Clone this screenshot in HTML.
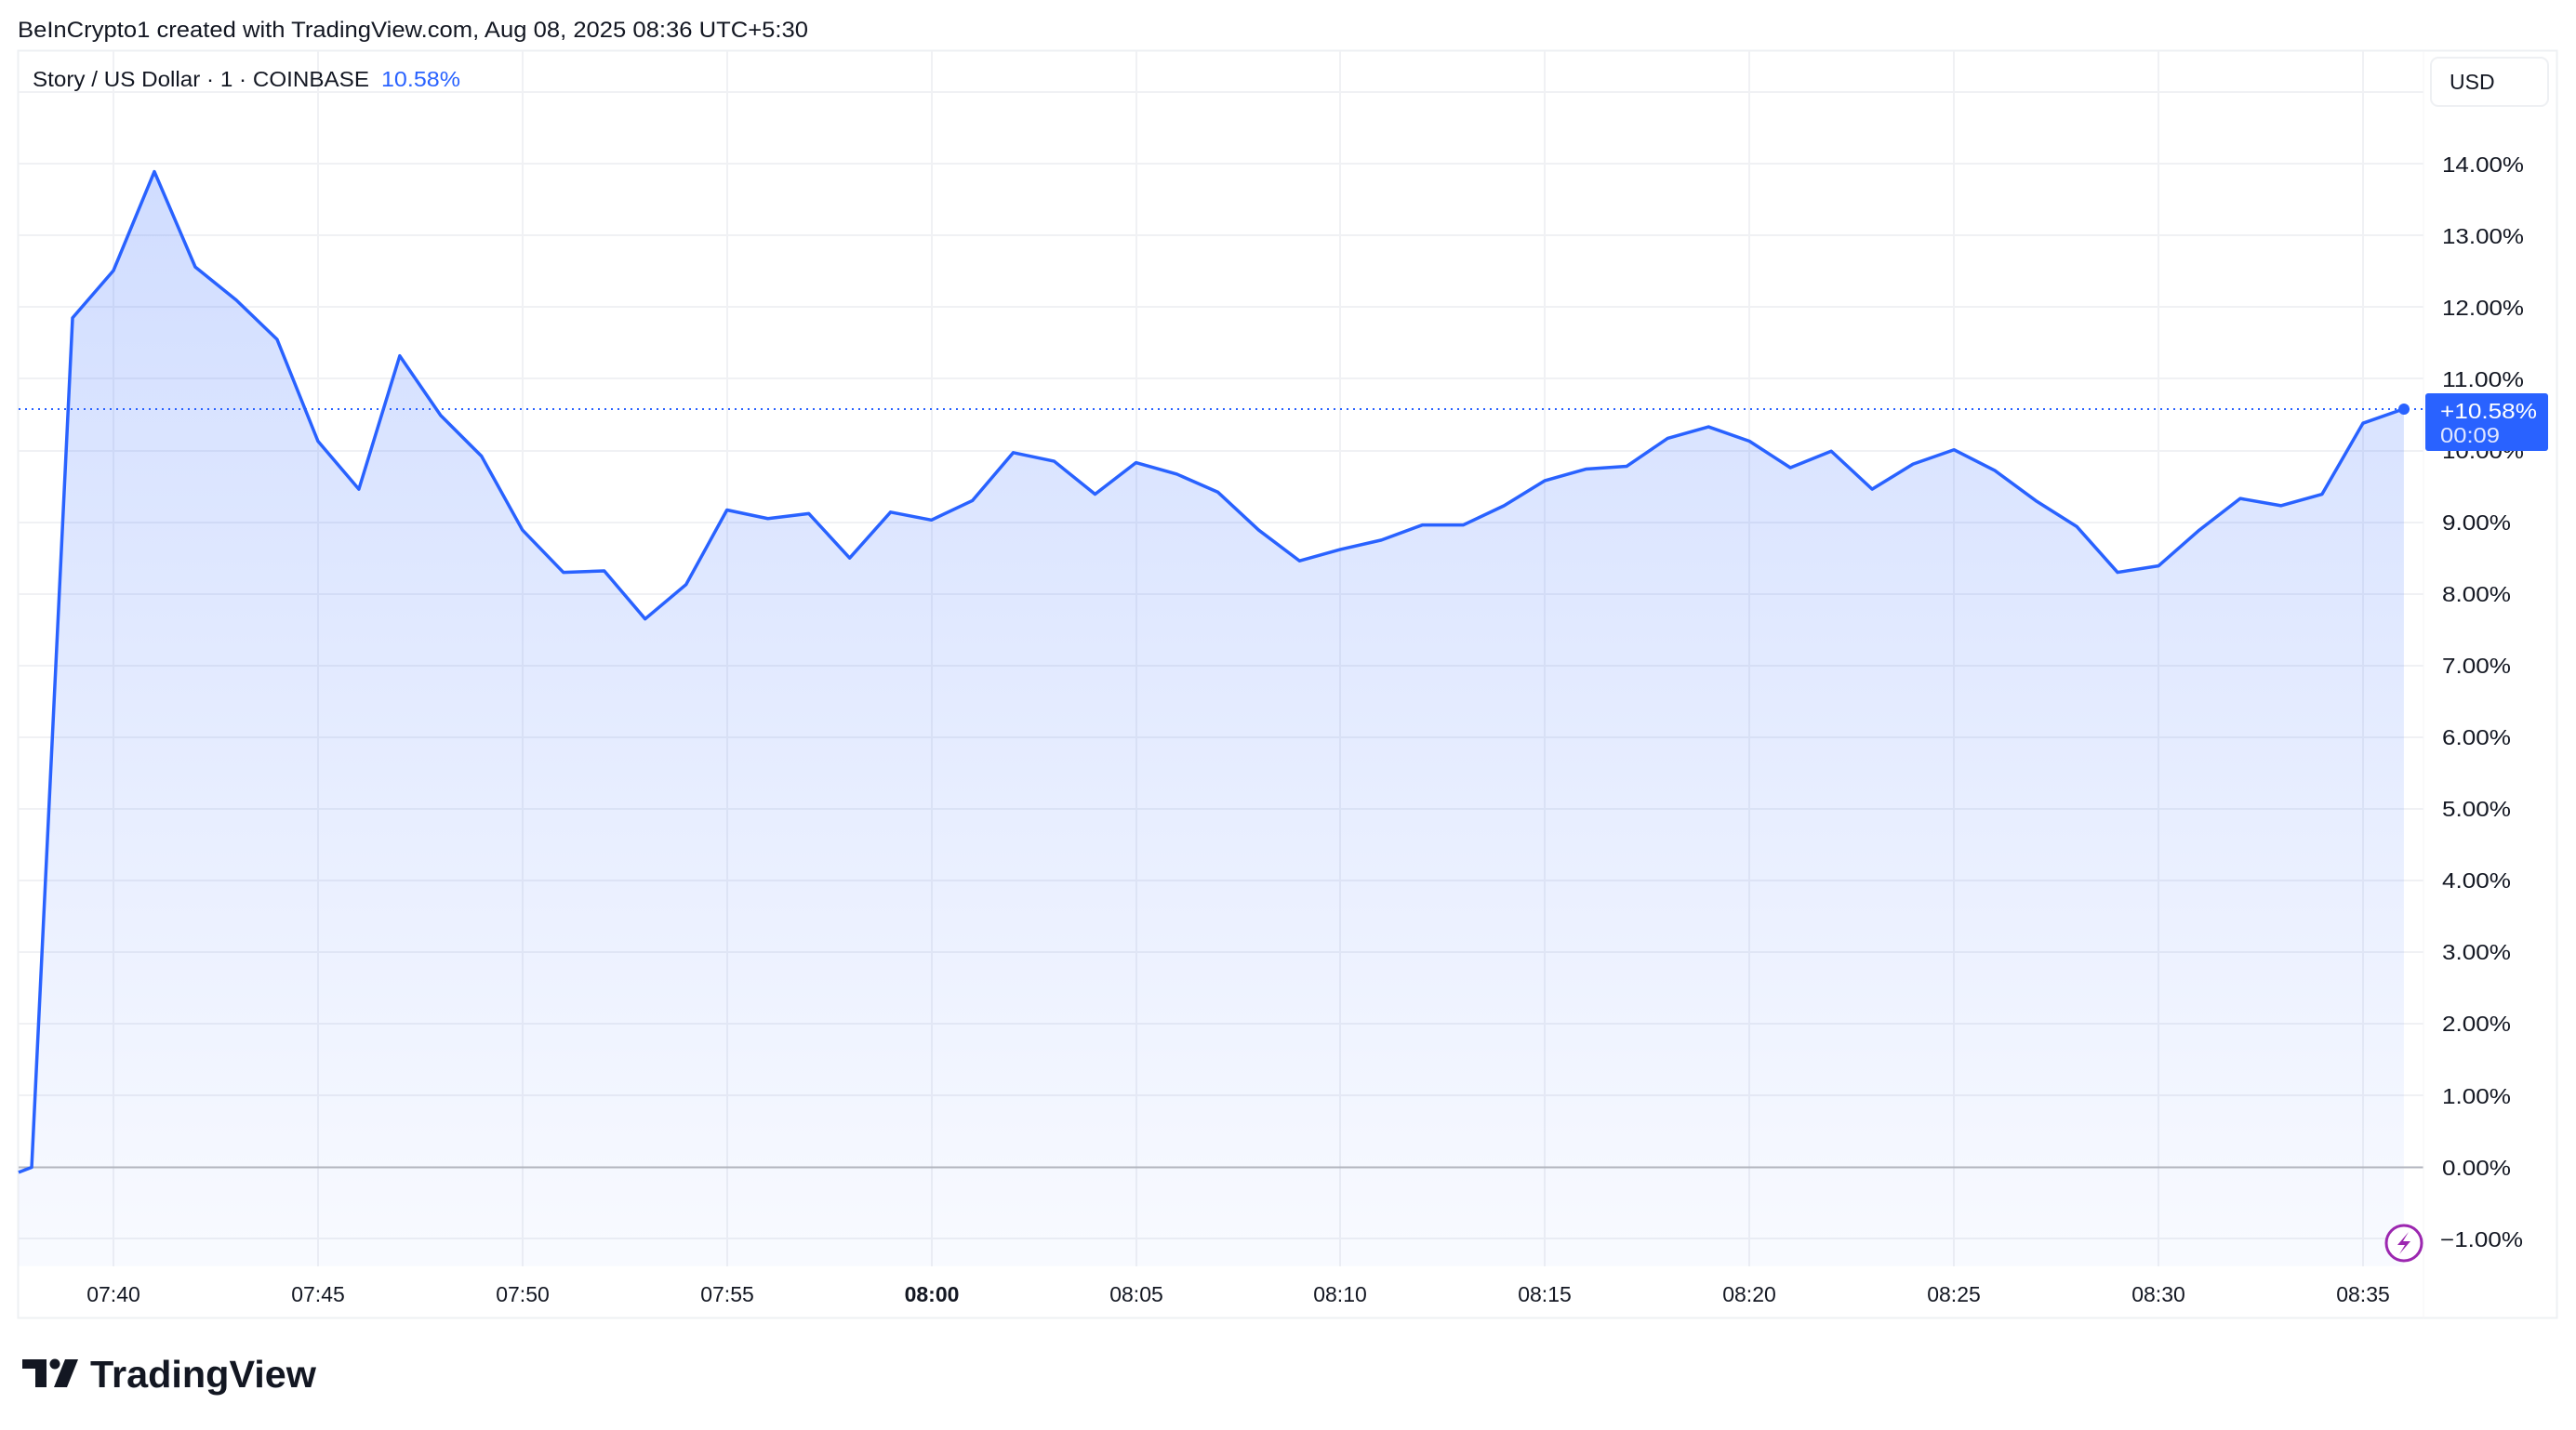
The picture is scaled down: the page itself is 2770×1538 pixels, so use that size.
<!DOCTYPE html>
<html><head><meta charset="utf-8"><style>
html,body{margin:0;padding:0;background:#fff;}
svg{display:block;font-family:"Liberation Sans",sans-serif;}
</style></head><body>
<svg width="2770" height="1538" viewBox="0 0 2770 1538" xmlns="http://www.w3.org/2000/svg">
<defs>
<linearGradient id="g" gradientUnits="userSpaceOnUse" x1="0" y1="14" x2="0" y2="-1.38">
<stop offset="0" stop-color="#2962ff" stop-opacity="0.22"/>
<stop offset="1" stop-color="#2962ff" stop-opacity="0.03"/>
</linearGradient>
</defs>
<rect width="2770" height="1538" fill="#fff"/>
<text x="19" y="40" font-size="24" fill="#131722" textLength="850" lengthAdjust="spacingAndGlyphs">BeInCrypto1 created with TradingView.com, Aug 08, 2025 08:36 UTC+5:30</text>
<rect x="19.5" y="54.5" width="2730" height="1363" fill="none" stroke="#eef0f3" stroke-width="2"/>
<g stroke="#f0f1f4" stroke-width="2">
<line x1="20" x2="2606" y1="99" y2="99"/>
<line x1="20" x2="2606" y1="176" y2="176"/>
<line x1="20" x2="2606" y1="253" y2="253"/>
<line x1="20" x2="2606" y1="330" y2="330"/>
<line x1="20" x2="2606" y1="407" y2="407"/>
<line x1="20" x2="2606" y1="485" y2="485"/>
<line x1="20" x2="2606" y1="562" y2="562"/>
<line x1="20" x2="2606" y1="639" y2="639"/>
<line x1="20" x2="2606" y1="716" y2="716"/>
<line x1="20" x2="2606" y1="793" y2="793"/>
<line x1="20" x2="2606" y1="870" y2="870"/>
<line x1="20" x2="2606" y1="947" y2="947"/>
<line x1="20" x2="2606" y1="1024" y2="1024"/>
<line x1="20" x2="2606" y1="1101" y2="1101"/>
<line x1="20" x2="2606" y1="1178" y2="1178"/>
<line x1="20" x2="2606" y1="1332" y2="1332"/>
</g>
<g stroke="#f0f1f4" stroke-width="2">
<line y1="55" y2="1362" x1="122" x2="122"/>
<line y1="55" y2="1362" x1="342" x2="342"/>
<line y1="55" y2="1362" x1="562" x2="562"/>
<line y1="55" y2="1362" x1="782" x2="782"/>
<line y1="55" y2="1362" x1="1002" x2="1002"/>
<line y1="55" y2="1362" x1="1222" x2="1222"/>
<line y1="55" y2="1362" x1="1441" x2="1441"/>
<line y1="55" y2="1362" x1="1661" x2="1661"/>
<line y1="55" y2="1362" x1="1881" x2="1881"/>
<line y1="55" y2="1362" x1="2101" x2="2101"/>
<line y1="55" y2="1362" x1="2321" x2="2321"/>
<line y1="55" y2="1362" x1="2541" x2="2541"/>
</g>
<g transform="translate(122,1255.5) scale(43.98,-77.1)">
<polygon fill="url(#g)" points="-2.32,-1.38 -2.32,-0.07 -2,0 -1,11.85 0,12.51 1,13.89 2,12.56 3,12.10 4,11.55 5,10.13 6,9.46 7,11.32 8,10.49 9,9.92 10,8.89 11,8.30 12,8.32 13,7.65 14,8.13 15,9.17 16,9.05 17,9.12 18,8.50 19,9.14 20,9.03 21,9.30 22,9.97 23,9.85 24,9.39 25,9.83 26,9.67 27,9.42 28,8.89 29,8.46 30,8.62 31,8.75 32,8.96 33,8.96 34,9.23 35,9.58 36,9.74 37,9.78 38,10.17 39,10.33 40,10.13 41,9.76 42,9.99 43,9.46 44,9.81 45,10.01 46,9.72 47,9.30 48,8.94 49,8.30 50,8.39 51,8.89 52,9.33 53,9.23 54,9.39 55,10.38 56,10.58 56,-1.38"/>
</g>
<line x1="20" x2="2606" y1="1255.5" y2="1255.5" stroke="#b2b5be" stroke-width="2"/>
<line x1="20" x2="2606" y1="440" y2="440" stroke="#2962ff" stroke-width="2" stroke-dasharray="2,5"/>
<g transform="translate(122,1255.5) scale(43.98,-77.1)">
<polyline fill="none" stroke="#2962ff" stroke-width="3.5" vector-effect="non-scaling-stroke" stroke-linejoin="round" points="-2.32,-0.07 -2,0 -1,11.85 0,12.51 1,13.89 2,12.56 3,12.10 4,11.55 5,10.13 6,9.46 7,11.32 8,10.49 9,9.92 10,8.89 11,8.30 12,8.32 13,7.65 14,8.13 15,9.17 16,9.05 17,9.12 18,8.50 19,9.14 20,9.03 21,9.30 22,9.97 23,9.85 24,9.39 25,9.83 26,9.67 27,9.42 28,8.89 29,8.46 30,8.62 31,8.75 32,8.96 33,8.96 34,9.23 35,9.58 36,9.74 37,9.78 38,10.17 39,10.33 40,10.13 41,9.76 42,9.99 43,9.46 44,9.81 45,10.01 46,9.72 47,9.30 48,8.94 49,8.30 50,8.39 51,8.89 52,9.33 53,9.23 54,9.39 55,10.38 56,10.58"/>
</g>
<circle cx="2585" cy="440" r="6" fill="#2962ff"/>
<line x1="2606" x2="2606" y1="55" y2="1418" stroke="#f5f5f7" stroke-width="1"/>
<text x="35" y="93" font-size="23" fill="#131722" textLength="362" lengthAdjust="spacingAndGlyphs">Story / US Dollar · 1 · COINBASE</text>
<text x="410" y="93" font-size="23" fill="#2962ff" textLength="85" lengthAdjust="spacingAndGlyphs">10.58%</text>
<rect x="2614" y="62" width="126" height="52" rx="8" fill="#fff" stroke="#eef0f3" stroke-width="2"/>
<text x="2634" y="96" font-size="23" fill="#131722">USD</text>
<g font-size="23" fill="#131722">
<text x="2626" y="185" textLength="88" lengthAdjust="spacingAndGlyphs">14.00%</text>
<text x="2626" y="262" textLength="88" lengthAdjust="spacingAndGlyphs">13.00%</text>
<text x="2626" y="339" textLength="88" lengthAdjust="spacingAndGlyphs">12.00%</text>
<text x="2626" y="416" textLength="88" lengthAdjust="spacingAndGlyphs">11.00%</text>
<text x="2626" y="493" textLength="88" lengthAdjust="spacingAndGlyphs">10.00%</text>
<text x="2626" y="570" textLength="74" lengthAdjust="spacingAndGlyphs">9.00%</text>
<text x="2626" y="647" textLength="74" lengthAdjust="spacingAndGlyphs">8.00%</text>
<text x="2626" y="724" textLength="74" lengthAdjust="spacingAndGlyphs">7.00%</text>
<text x="2626" y="801" textLength="74" lengthAdjust="spacingAndGlyphs">6.00%</text>
<text x="2626" y="878" textLength="74" lengthAdjust="spacingAndGlyphs">5.00%</text>
<text x="2626" y="955" textLength="74" lengthAdjust="spacingAndGlyphs">4.00%</text>
<text x="2626" y="1032" textLength="74" lengthAdjust="spacingAndGlyphs">3.00%</text>
<text x="2626" y="1109" textLength="74" lengthAdjust="spacingAndGlyphs">2.00%</text>
<text x="2626" y="1187" textLength="74" lengthAdjust="spacingAndGlyphs">1.00%</text>
<text x="2626" y="1264" textLength="74" lengthAdjust="spacingAndGlyphs">0.00%</text>
<text x="2624" y="1341" textLength="89" lengthAdjust="spacingAndGlyphs">−1.00%</text>
</g>
<rect x="2608" y="423" width="132" height="62" rx="3" fill="#2962ff"/>
<text x="2624" y="450" font-size="23" fill="#fff" textLength="104" lengthAdjust="spacingAndGlyphs">+10.58%</text>
<text x="2624" y="476" font-size="23" fill="#dfe6ff" textLength="64" lengthAdjust="spacingAndGlyphs">00:09</text>
<circle cx="2585" cy="1337" r="19" fill="#fff" stroke="#9c27b0" stroke-width="3"/>
<path d="M2590 1325 L2578 1339 L2586 1339 L2580 1349 L2592 1335 L2584 1335 Z" fill="#9c27b0"/>
<g font-size="23" fill="#131722" text-anchor="middle">
<text x="122" y="1400">07:40</text>
<text x="342" y="1400">07:45</text>
<text x="562" y="1400">07:50</text>
<text x="782" y="1400">07:55</text>
<text x="1002" y="1400" font-weight="bold">08:00</text>
<text x="1222" y="1400">08:05</text>
<text x="1441" y="1400">08:10</text>
<text x="1661" y="1400">08:15</text>
<text x="1881" y="1400">08:20</text>
<text x="2101" y="1400">08:25</text>
<text x="2321" y="1400">08:30</text>
<text x="2541" y="1400">08:35</text>
</g>
<g fill="#131722">
<path d="M24 1462 H50 V1492 H38 V1472 H24 Z"/>
<circle cx="59" cy="1467" r="5.5"/>
<path d="M70 1462 H84 L72 1492 H58 Z"/>
</g>
<text x="97" y="1492" font-size="41" font-weight="bold" fill="#131722" textLength="243" lengthAdjust="spacingAndGlyphs">TradingView</text>
</svg>
</body></html>
